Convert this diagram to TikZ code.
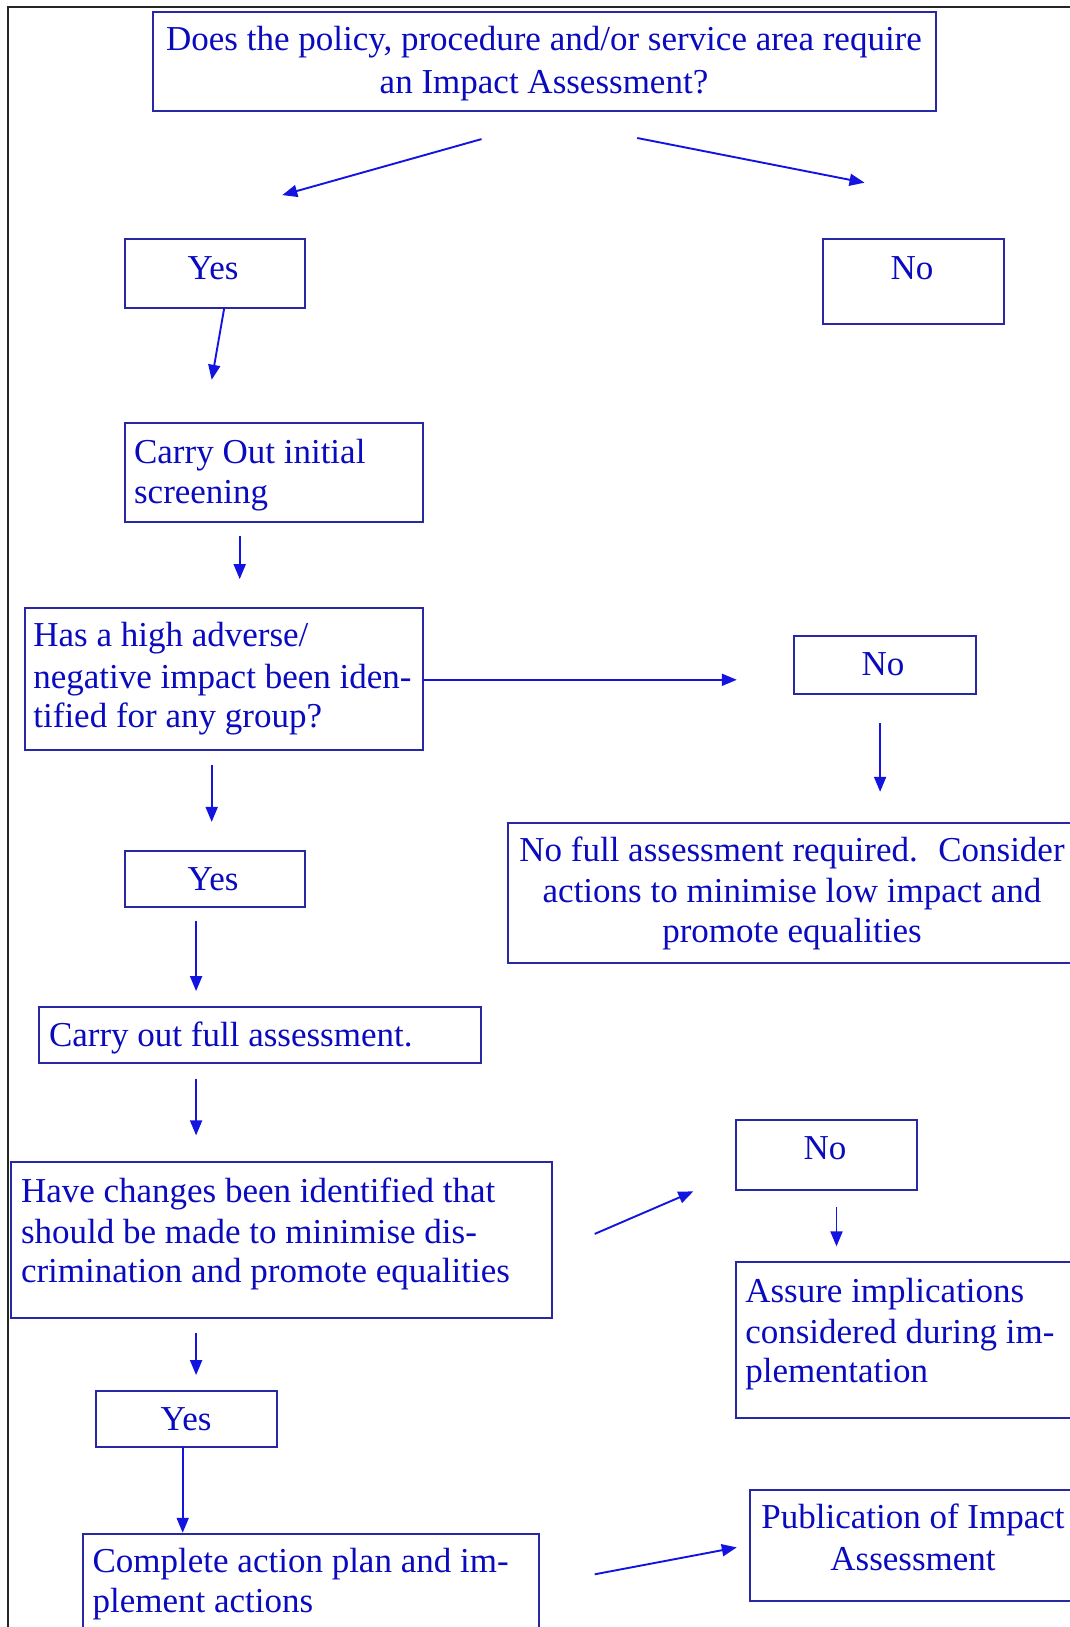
\documentclass[tikz,border=0pt]{standalone}
\usepackage{fontspec}
\setmainfont{Liberation Serif}
\usetikzlibrary{arrows.meta}
\definecolor{boxc}{RGB}{40,40,165}
\definecolor{txtc}{RGB}{10,10,190}
\definecolor{arrc}{RGB}{20,20,225}
\tikzset{
  x=1pt, y=-1pt,
  box/.style={draw=boxc, line width=2pt},
  tl/.style={text=txtc, inner sep=0pt, anchor=base west, font=\fontsize{35}{41.5}\selectfont},
  tc/.style={text=txtc, inner sep=0pt, anchor=base, font=\fontsize{35}{41.5}\selectfont},
  arr/.style={draw=arrc, line width=1.9pt, -{Triangle[length=15pt,width=12pt]}},
}
\begin{document}
\begin{tikzpicture}
\useasboundingbox (0,0) rectangle (1070,1627);
\clip (0,0) rectangle (1070,1627);
\fill[white] (0,0) rectangle (1070,1627);
% frame
\draw[black!85, line width=2pt] (8.2,1640) -- (8.2,7.3) -- (1080,7.3);

% boxes
\path[box] (152.6,12.5) rectangle (936.1,111);
\path[box] (124.5,238.7) rectangle (305.1,308.2);
\path[box] (823,238.7) rectangle (1003.6,323.8);
\path[box] (124.5,423.4) rectangle (423.4,522);
\path[box] (24.9,608.2) rectangle (423.4,750.3);
\path[box] (793.9,636.2) rectangle (975.5,694.3);
\path[box] (507.5,823) rectangle (1085,963.1);
\path[box] (124.5,851) rectangle (305.1,907);
\path[box] (39.4,1006.7) rectangle (480.5,1062.7);
\path[box] (11.4,1162.3) rectangle (552.1,1318);
\path[box] (735.8,1119.8) rectangle (917.4,1190.4);
\path[box] (735.8,1262) rectangle (1085,1417.6);
\path[box] (95.5,1390.7) rectangle (277.1,1446.7);
\path[box] (83,1533.9) rectangle (538.6,1645);
\path[box] (750.3,1490.3) rectangle (1085,1601.3);

% texts
\node[tc] (t1a) at (544,50.6) {Does the policy, procedure and/or service area require};
\node[tc] (t1b) at (544,93.3) {an Impact Assessment?};
\node[tc] (yes1) at (213,279.4) {Yes};
\node[tc] (no1) at (912,279.4) {No};
\node[tl] (c1) at (133.9,463) {Carry Out initial};
\node[tl] (c2) at (133.9,503.5) {screening};
\node[tl] (h1) at (33.2,646.7) {Has a high adverse/};
\node[tl] (h2) at (33.2,688.2) {negative impact been iden-};
\node[tl] (h3) at (33.2,727.7) {tified for any group?};
\node[tc] (no2) at (883,675.8) {No};
\node[tc] (n1) at (792,861.6) {No full assessment required.~ Consider};
\node[tc] (n2) at (792,902) {actions to minimise low impact and};
\node[tc] (n3) at (792,942.5) {promote equalities};
\node[tc] (yes2) at (213,890.6) {Yes};
\node[tl] (f1) at (48.8,1046.3) {Carry out full assessment.};
\node[tl] (hv1) at (20.8,1202) {Have changes been identified that};
\node[tl] (hv2) at (20.8,1243.5) {should be made to minimise dis-};
\node[tl] (hv3) at (20.8,1282.9) {crimination and promote equalities};
\node[tc] (no3) at (825,1159.4) {No};
\node[tl] (a1) at (745.1,1302.6) {Assure implications};
\node[tl] (a2) at (745.1,1343.1) {considered during im-};
\node[tl] (a3) at (745.1,1382.5) {plementation};
\node[tc] (yes3) at (186,1430.3) {Yes};
\node[tl] (cp1) at (92.4,1572.5) {Complete action plan and im-};
\node[tl] (cp2) at (92.4,1612.9) {plement actions};
\node[tc] (p1) at (913,1528.9) {Publication of Impact};
\node[tc] (p2) at (913,1570.4) {Assessment};

% arrow end points
\coordinate (a1s) at (481.5,139.1); \coordinate (a1e) at (282.3,195.1);
\coordinate (a2s) at (637.2,138.0); \coordinate (a2e) at (864.5,182.7);
\coordinate (a3s) at (224.2,308.2); \coordinate (a3e) at (211.7,379.8);
\coordinate (a4s) at (239.7,535.5); \coordinate (a4e) at (239.7,579.1);
\coordinate (a5s) at (423.4,679.8); \coordinate (a5e) at (736.8,679.8);
\coordinate (a6s) at (880.1,723.3); \coordinate (a6e) at (880.1,791.8);
\coordinate (a7s) at (211.7,764.9); \coordinate (a7e) at (211.7,821.9);
\coordinate (a8s) at (196.1,920.5); \coordinate (a8e) at (196.1,991.1);
\coordinate (a9s) at (196.1,1079.3); \coordinate (a9e) at (196.1,1135.4);
\coordinate (a10s) at (594.7,1233.9); \coordinate (a10e) at (693.3,1191.4);
\coordinate (a11s) at (836.5,1207.0); \coordinate (a11e) at (836.5,1246.4);
\coordinate (a12s) at (196.1,1332.5); \coordinate (a12e) at (196.1,1375.1);
\coordinate (a13s) at (182.7,1446.7); \coordinate (a13e) at (182.7,1532.8);
\coordinate (a14s) at (594.7,1574.3); \coordinate (a14e) at (736.8,1547.4);

\foreach \i in {1,...,14} { \draw[arr] (a\i s) -- (a\i e); }
\end{tikzpicture}
\end{document}
